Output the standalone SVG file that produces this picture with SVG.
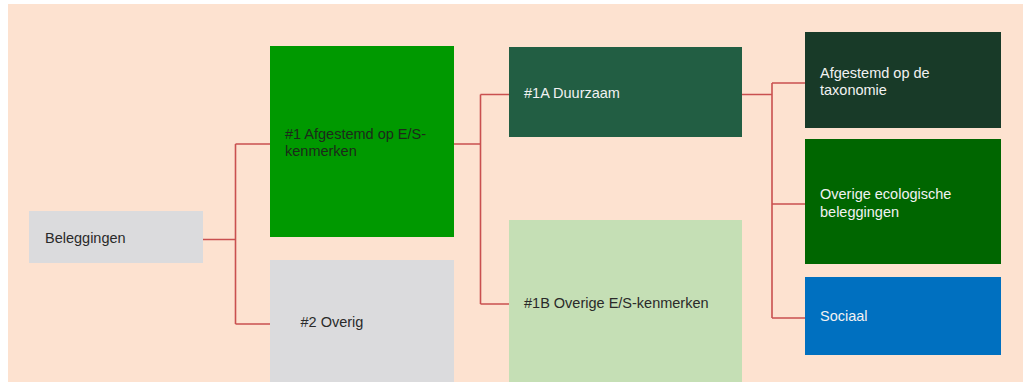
<svg xmlns="http://www.w3.org/2000/svg" width="1027" height="382" viewBox="0 0 1027 382">
<style>
text{font-family:"Liberation Sans",Arial,sans-serif;font-size:14.5px}
.dk{fill:#2a2a2a}
.lt{fill:#f2f2f2}
.c{fill:none;stroke:#C9504F;stroke-width:1.6}
</style>
<rect x="0" y="0" width="1027" height="382" fill="#ffffff"/>
<rect x="8" y="4" width="1015" height="378" fill="#FDE2D0"/>
<g id="connectors">
<path class="c" d="M203,239.5 H235.5 M235.5,144 V324 M235.5,144 H270 M235.5,324 H270"/>
<path class="c" d="M454,144 H480.5 M480.5,94.5 V304 M480.5,94.5 H509 M480.5,304 H509"/>
<path class="c" d="M742,94.5 H772 M772,83 V318 M772,83 H805 M772,204 H805 M772,318 H805"/>
</g>
<g id="node-beleggingen">
<rect x="29" y="211" width="174" height="52" fill="#DBDBDD"/>
<text class="dk" x="45" y="242.5">Beleggingen</text>
</g>
<g id="node-1">
<rect x="270" y="46" width="184" height="191" fill="#009900"/>
<text x="285" y="139" fill="#1c2a1a">#1 Afgestemd op E/S-</text>
<text x="285" y="156" fill="#1c2a1a">kenmerken</text>
</g>
<g id="node-2">
<rect x="270" y="260" width="184" height="122" fill="#DBDBDD"/>
<text class="dk" x="300.5" y="327">#2 Overig</text>
</g>
<g id="node-1a">
<rect x="509" y="47" width="233" height="90" fill="#225E43"/>
<text class="lt" x="524" y="97.5">#1A Duurzaam</text>
</g>
<g id="node-1b">
<rect x="509" y="220" width="233" height="162" fill="#C5DFB5"/>
<text class="dk" x="524" y="307.5">#1B Overige E/S-kenmerken</text>
</g>
<g id="node-taxonomie">
<rect x="805" y="32" width="196" height="96" fill="#183A28"/>
<text class="lt" x="820" y="77.5">Afgestemd op de</text>
<text class="lt" x="820" y="94.5">taxonomie</text>
</g>
<g id="node-ecologisch">
<rect x="805" y="139" width="196" height="125" fill="#006600"/>
<text class="lt" x="820" y="199">Overige ecologische</text>
<text class="lt" x="820" y="216.5">beleggingen</text>
</g>
<g id="node-sociaal">
<rect x="805" y="277" width="196" height="78" fill="#0070C0"/>
<text class="lt" x="820" y="321">Sociaal</text>
</g>
</svg>
